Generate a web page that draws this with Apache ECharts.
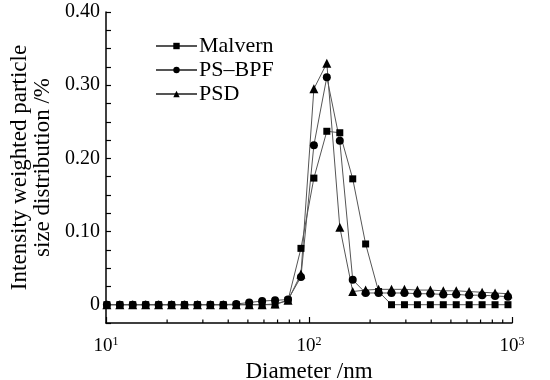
<!DOCTYPE html>
<html>
<head>
<meta charset="utf-8">
<script src="https://cdn.jsdelivr.net/npm/echarts@6/dist/echarts.min.js"></script>
<style>
  html, body { margin: 0; padding: 0; background: #fff; }
  #chart { width: 550px; height: 380px; }
</style>
</head>
<body>
<div id="chart"></div>
<script>
// 粒径 (nm)
const diameters = [10.1, 11.7, 13.54, 15.69, 18.17, 21.04, 24.36, 28.21, 32.67, 37.84,
  43.82, 50.75, 58.77, 68.06, 78.82, 91.28, 105.7, 122.4, 141.8, 164.2,
  190.1, 220.2, 255.0, 295.3, 342.0, 396.1, 458.7, 531.2, 615.1, 712.4, 825.0, 955.4];
const malvern = [0, 0, 0, 0, 0, 0, 0, 0, 0, 0,
  0, 0, 0, 0, 0.006, 0.077, 0.173, 0.237, 0.235, 0.172,
  0.083, 0.018, 0, 0, 0, 0, 0, 0, 0, 0, 0, 0];
const psbpf = [0, 0, 0, 0, 0, 0, 0, 0, 0, 0,
  0.001, 0.003, 0.005, 0.006, 0.007, 0.038, 0.218, 0.311, 0.224, 0.034,
  0.016, 0.016, 0.016, 0.016, 0.015, 0.015, 0.014, 0.014, 0.013, 0.013, 0.012, 0.011];
const psd = [0, 0, 0, 0, 0, 0, 0, 0, 0, 0,
  0, 0, 0, 0.001, 0.006, 0.042, 0.295, 0.330, 0.106, 0.018,
  0.020, 0.021, 0.021, 0.021, 0.020, 0.020, 0.019, 0.019, 0.018, 0.017, 0.016, 0.015];
const minorTicks = [20, 30, 40, 50, 60, 70, 80, 90, 200, 300, 400, 500, 600, 700, 800, 900];

const font = "'Liberation Serif', 'DejaVu Serif', serif";
const chart = echarts.init(document.getElementById("chart"));

const pairs = (ys) => diameters.map((d, i) => [d, ys[i]]);
const lineSeries = (name, ys, symbol, size) => ({
  name: name,
  type: "line",
  data: pairs(ys),
  symbol: symbol,
  symbolSize: size,
  showSymbol: true,
  lineStyle: { color: "#555", width: 1 },
  itemStyle: { color: "#000" },
  emphasis: { disabled: true },
  z: 3,
});

chart.setOption({
  animation: false,
  textStyle: { fontFamily: font },
  grid: { left: 106, right: 38, top: 12, bottom: 57, containLabel: false, outerBoundsMode: "none" },
  legend: {
    orient: "vertical",
    left: 150,
    top: 30,
    itemWidth: 41,
    itemHeight: 8,
    itemGap: 2,
    textStyle: { fontFamily: font, fontSize: 22, color: "#000", padding: [0, 0, 0, -3] },
    data: ["Malvern", "PS–BPF", "PSD"],
  },
  xAxis: {
    type: "log",
    logBase: 10,
    min: 10,
    max: 1000,
    name: "Diameter /nm",
    nameLocation: "middle",
    nameGap: 31,
    nameTextStyle: { fontFamily: font, fontSize: 23, color: "#000" },
    axisLine: { onZero: false, lineStyle: { color: "#000", width: 1.5 } },
    axisTick: { inside: true, length: 6, lineStyle: { color: "#000", width: 1.2 } },
    axisLabel: {
      margin: 13,
      color: "#000",
      fontFamily: font,
      fontSize: 19,
      formatter: (v) => "10{sup|" + Math.round(Math.log10(v)) + "}",
      rich: { sup: { fontSize: 12, verticalAlign: "top", padding: [0, 0, 9, 0], fontFamily: font, color: "#000" } },
    },
    splitLine: { show: false },
  },
  yAxis: {
    type: "value",
    min: -0.025,
    max: 0.4,
    interval: 0.025,
    name: "Intensity weighted particle\nsize distribution /%",
    nameLocation: "middle",
    nameRotate: 90,
    nameGap: 50,
    nameTextStyle: { fontFamily: font, fontSize: 23, color: "#000", lineHeight: 23 },
    axisLine: { show: true, lineStyle: { color: "#000", width: 1.5 } },
    axisTick: { inside: true, length: 5, lineStyle: { color: "#000", width: 1.2 } },
    axisLabel: {
      margin: 6,
      color: "#000",
      fontFamily: font,
      fontSize: 20,
      formatter: (v) => {
        const k = Math.round(v * 1000);
        if (k < 0 || k % 100 !== 0) return "";
        return k === 0 ? "0" : (k / 1000).toFixed(2);
      },
    },
    splitLine: { show: false },
  },
  series: [
    lineSeries("Malvern", malvern, "rect", 7),
    lineSeries("PS–BPF", psbpf, "circle", 8),
    lineSeries("PSD", psd, "triangle", 9),
    {
      // 对数轴次刻度
      type: "custom",
      silent: true,
      clip: false,
      data: minorTicks.map((d) => [d, -0.025]),
      renderItem: (params, api) => {
        const p = api.coord([api.value(0), api.value(1)]);
        return {
          type: "line",
          shape: { x1: p[0], y1: p[1], x2: p[0], y2: p[1] - 3.5 },
          style: { stroke: "#000", lineWidth: 1.2 },
        };
      },
      z: 4,
    },
  ],
});
</script>
</body>
</html>
